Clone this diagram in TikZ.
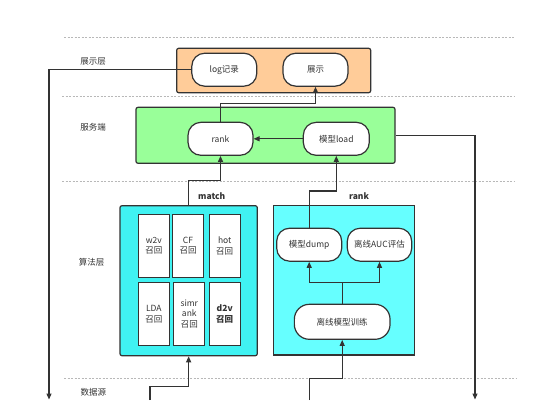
\documentclass[tikz,border=0pt]{standalone}
\usepackage{fontspec}
\setmainfont{Noto Sans CJK SC}
\usetikzlibrary{calc,arrows.meta}

\definecolor{lineC}{HTML}{333333}
\definecolor{showC}{HTML}{FFCC99}
\definecolor{serveC}{HTML}{99FF99}
\definecolor{matchC}{HTML}{40F2F2}
\definecolor{rankC}{HTML}{66FFFF}
\definecolor{dashC}{HTML}{B8B8B8}

\tikzset{
    layerline/.style={draw=dashC, dash pattern=on 2pt off 1.5pt, line width=0.6pt},
    groupbox/.style={draw=lineC, line width=1.2pt, rounded corners=2pt, inner sep=0pt},
    pill/.style={draw=lineC, fill=white, line width=1.2pt, rounded corners=13pt, minimum width=65pt, minimum height=33pt, inner sep=0pt, font=\fontsize{8.5}{10}\selectfont, text=lineC},
    cell/.style={draw=lineC, fill=white, line width=1.2pt, minimum width=31pt, minimum height=63pt, inner sep=0pt, align=center, font=\fontsize{8.5}{10.5}\selectfont, text=lineC},
    layername/.style={font=\fontsize{8.5}{10}\selectfont, text=lineC},
    grouptitle/.style={font=\bfseries\fontsize{8.5}{10}\selectfont, text=lineC},
    link/.style={draw=lineC, line width=1.2pt, -{Triangle[length=6pt,width=5pt]}},
}

\begin{document}
\begin{tikzpicture}[x=1pt, y=-1pt]
    \useasboundingbox[fill=white] (0,0) rectangle (560,400);

    \draw[layerline] (64,37.3) -- (515,37.3);
    \draw[layerline] (62,96) -- (514,96);
    \draw[layerline] (62,181) -- (514,181);
    \draw[layerline] (64,378.3) -- (516,378.3);

    \node[layername] (lshow) at (93,61.7) {展示层};
    \node[layername] (lserve) at (93,127.7) {服务端};
    \node[layername] (lalgo) at (91.7,262.3) {算法层};
    \node[layername] (lsrc) at (93.3,392.3) {数据源};

    \node[groupbox, fill=showC, minimum width=194pt, minimum height=44.4pt] (showbox) at (273.7,70.5) {};
    \node[pill] (logrec) at (224.3,69.7) {log记录};
    \node[pill] (disp) at ($(logrec) + (91.2,0)$) {展示};

    \node[groupbox, fill=serveC, minimum width=259pt, minimum height=56pt] (servebox) at (265.5,135.3) {};
    \node[pill] (rank) at (220.5,138.8) {rank};
    \node[pill, minimum width=66pt] (load) at ($(rank) + (115.8,0)$) {模型load};

    \node[grouptitle] (tmatch) at (211.7,195.7) {match};
    \node[grouptitle] (trank) at (359,195.7) {rank};

    \node[groupbox, fill=matchC, minimum width=137.3pt, minimum height=150pt] (matchbox) at (188.65,280.7) {};
    \node[cell] (w2v) at (153.8,245.8) {w2v\\召回};
    \node[cell] (cf) at ($(w2v) + (34.2,0)$) {CF\\召回};
    \node[cell] (hot) at ($(w2v) + (70.9,0)$) {hot\\召回};
    \node[cell] (lda) at ($(w2v) + (0,68.2)$) {LDA\\召回};
    \node[cell] (simrank) at ($(lda) + (35.5,0)$) {simr\\ank\\召回};
    \node[cell] (d2v) at ($(lda) + (70.9,0)$) {\textbf{d2v}\\\textbf{召回}};

    \node[groupbox, fill=rankC, rounded corners=0pt, minimum width=141pt, minimum height=149.3pt] (rankbox) at (343.8,280.35) {};
    \node[pill] (dump) at (309.2,244.7) {模型dump};
    \node[pill, minimum width=64.4pt] (auc) at ($(dump) + (70.3,0)$) {离线AUC评估};
    \node[pill, minimum width=95.7pt, minimum height=35pt, rounded corners=15pt] (train) at (342.2,321.8) {离线模型训练};

    \coordinate (dsL) at (49,399.5);
    \coordinate (dsR) at (475,399.5);
    \coordinate (srcA) at (150,400);
    \coordinate (srcB) at (309.3,400);

    \draw[link] (logrec.west) -| (dsL);
    \draw[link] (rank.north) -- ++(0,-18.3) -| (disp.south);
    \draw[link] (load.west) -- (rank.east);
    \draw[link] (servebox.east) -| (dsR);

    \draw[link] (matchbox.north) -- ++(0,-24.7) -| (rank.south);
    \draw[link] (dump.north) -- ++(0,-36.6) -| (load.south);

    \draw[link] (train.north) -- ++(0,-21.6) -| (dump.south);
    \draw[link] (train.north) -- ++(0,-21.6) -| (auc.south);

    \draw[link] (srcA) -- ++(0,-13.3) -| (matchbox.south);
    \draw[link] (srcB) -- ++(0,-21.7) -| (train.south);
\end{tikzpicture}
\end{document}
